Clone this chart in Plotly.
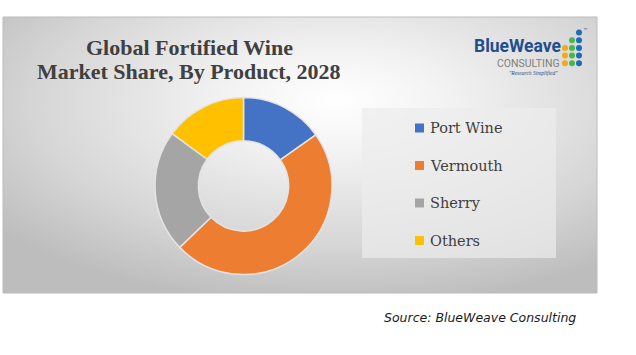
import plotly.graph_objects as go
import urllib.parse

W, H = 636, 355

categories = ["Port Wine", "Vermouth", "Sherry", "Others"]
shares = [15.2, 47.6, 22.3, 14.9]
colors = ["#4472C4", "#ED7D31", "#A5A5A5", "#FFC000"]
title_lines = ["Global Fortified Wine", "Market Share, By Product, 2028"]
source_text = "Source: BlueWeave Consulting"


def fx(px):
    return px / W


def fy(py):
    return 1 - py / H


# background gradient panel as inline SVG
svg = (
    "<svg xmlns='http://www.w3.org/2000/svg' width='594' height='276' preserveAspectRatio='none'>"
    "<defs><radialGradient id='g' cx='0.56' cy='0.33' r='0.72' fx='0.56' fy='0.3'>"
    "<stop offset='0' stop-color='#ffffff'/>"
    "<stop offset='0.25' stop-color='#f3f3f3'/>"
    "<stop offset='0.7' stop-color='#d6d6d6'/>"
    "<stop offset='1' stop-color='#bdbdbd'/>"
    "</radialGradient></defs>"
    "<rect width='594' height='276' fill='url(#g)'/></svg>"
)
svg_uri = "data:image/svg+xml;charset=utf-8," + urllib.parse.quote(svg)

cx, cy, r = 243.5, 186, 88.5

fig = go.Figure(
    go.Pie(
        labels=categories,
        values=shares,
        marker=dict(colors=colors, line=dict(color="#e4e4e4", width=1.5)),
        hole=0.51,
        sort=False,
        direction="clockwise",
        rotation=0,
        textinfo="none",
        hoverinfo="label+percent",
        showlegend=False,
        domain=dict(x=[fx(cx - r), fx(cx + r)], y=[fy(cy + r), fy(cy - r)]),
    )
)

shapes = [
    dict(type="rect", xref="paper", yref="paper", x0=fx(3), x1=fx(597), y0=fy(293), y1=fy(17),
         line=dict(color="#bcbcbc", width=1), fillcolor="rgba(0,0,0,0)", layer="above"),
    dict(type="rect", xref="paper", yref="paper", x0=fx(362), x1=fx(556), y0=fy(258), y1=fy(108),
         line=dict(width=0), fillcolor="rgba(236,236,236,0.7)", layer="below"),
]
annotations = []

# title
for i, line in enumerate(title_lines):
    annotations.append(dict(
        text="<b>%s</b>" % line, xref="paper", yref="paper", x=fx(189), y=fy(47 + i * 25),
        xanchor="center", yanchor="middle", showarrow=False,
        font=dict(family="Liberation Serif", size=22, color="#404040")))

# legend (manual)
for i, (cat, col) in enumerate(zip(categories, colors)):
    yc = 128 + i * 37.5
    shapes.append(dict(type="rect", xref="paper", yref="paper",
                       x0=fx(415), x1=fx(424), y0=fy(yc + 4.5), y1=fy(yc - 4.5),
                       line=dict(width=0), fillcolor=col))
    annotations.append(dict(
        text=cat, xref="paper", yref="paper", x=fx(428), y=fy(yc),
        xanchor="left", yanchor="middle", showarrow=False,
        font=dict(family="DejaVu Serif", size=14.5, color="#404040")))

# logo
annotations += [
    dict(text="<b>BlueWeave</b>", xref="paper", yref="paper", x=fx(563), y=fy(45.5),
         xanchor="right", yanchor="middle", showarrow=False,
         font=dict(family="Liberation Sans Narrow, Roboto", size=17.5, color="#1F4E8C")),
    dict(text="CONSULTING", xref="paper", yref="paper", x=fx(562), y=fy(64),
         xanchor="right", yanchor="middle", showarrow=False,
         font=dict(family="Liberation Sans Narrow, Roboto", size=10.5, color="#7f7f7f")),
    dict(text="<i>\"Research Simplified\"</i>", xref="paper", yref="paper", x=fx(533), y=fy(73),
         xanchor="center", yanchor="middle", showarrow=False,
         font=dict(family="Liberation Serif", size=5.5, color="#1F4E8C")),
    dict(text="™", xref="paper", yref="paper", x=fx(585), y=fy(30),
         xanchor="center", yanchor="middle", showarrow=False,
         font=dict(family="DejaVu Sans", size=5, color="#404040")),
]
dot_cols = [(565, "#F5A81C", [2, 3, 4]), (572, "#4CB648", [1, 2, 3, 4]), (579, "#1E6BB8", [0, 1, 2, 3, 4])]
for x, c, rows in dot_cols:
    for rr in rows:
        y = 32.5 + rr * 7.7
        shapes.append(dict(type="circle", xref="paper", yref="paper",
                           x0=fx(x - 3), x1=fx(x + 3), y0=fy(y + 3), y1=fy(y - 3),
                           line=dict(width=0), fillcolor=c))

# source
annotations.append(dict(
    text="<i>%s</i>" % source_text, xref="paper", yref="paper", x=fx(578), y=fy(317),
    xanchor="right", yanchor="middle", showarrow=False,
    font=dict(family="DejaVu Sans", size=12.5, color="#1a1a1a")))

fig.update_layout(
    width=W, height=H,
    margin=dict(l=0, r=0, t=0, b=0),
    paper_bgcolor="white", plot_bgcolor="rgba(0,0,0,0)",
    shapes=shapes, annotations=annotations,
    images=[dict(source=svg_uri, xref="paper", yref="paper", x=fx(3), y=fy(17),
                 sizex=fx(594), sizey=276 / H, sizing="stretch", xanchor="left", yanchor="top",
                 layer="below")],
)

fig.write_html("out.html")
